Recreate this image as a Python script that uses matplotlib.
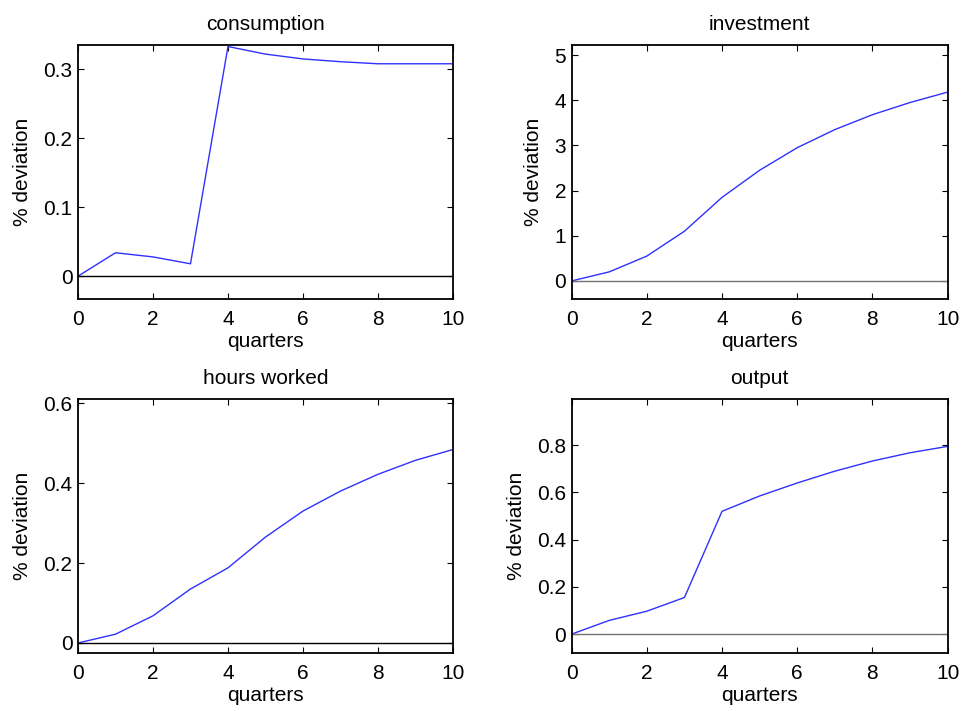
import numpy as np
import matplotlib
matplotlib.use('Agg')
import matplotlib.pyplot as plt

plt.rcParams['font.family'] = ['Liberation Sans', 'DejaVu Sans']
plt.rcParams['font.size'] = 15

quarters = np.arange(0, 11)

consumption = [0, 0.034, 0.028, 0.018, 0.333, 0.322, 0.315, 0.311, 0.308, 0.308, 0.308]
investment = [0, 0.2, 0.55, 1.1, 1.85, 2.45, 2.95, 3.35, 3.68, 3.95, 4.18]
hours_worked = [0, 0.022, 0.068, 0.135, 0.188, 0.265, 0.33, 0.38, 0.422, 0.457, 0.484]
output = [0, 0.058, 0.097, 0.155, 0.52, 0.585, 0.64, 0.69, 0.733, 0.768, 0.795]

panels = [
    ('consumption', consumption, (-0.033, 0.335), [0, 0.1, 0.2, 0.3], 'black',
     [0.0809, 0.5795, 0.389, 0.357]),
    ('investment', investment, (-0.4, 5.22), [0, 1, 2, 3, 4, 5], '0.45',
     [0.593, 0.5795, 0.390, 0.357]),
    ('hours worked', hours_worked, (-0.025, 0.61), [0, 0.2, 0.4, 0.6], 'black',
     [0.0809, 0.0816, 0.389, 0.357]),
    ('output', output, (-0.08, 0.995), [0, 0.2, 0.4, 0.6, 0.8], '0.45',
     [0.593, 0.0816, 0.390, 0.357]),
]

fig = plt.figure(figsize=(9.64, 7.11), dpi=100)

for title, vals, ylim, yticks, zcol, pos in panels:
    ax = fig.add_axes(pos)
    ax.plot(quarters, vals, color='#3030ff', lw=1.0)
    ax.axhline(0, color=zcol, lw=1.0)
    ax.set_xlim(0, 10)
    ax.set_ylim(*ylim)
    ax.set_xticks([0, 2, 4, 6, 8, 10])
    ax.set_yticks(yticks)
    ax.set_yticklabels(['0' if t == 0 else f'{t:g}' for t in yticks])
    ax.tick_params(direction='in', top=True, right=True, length=4, width=0.8)
    ax.tick_params(axis='x', pad=8)
    ax.tick_params(axis='y', pad=4)
    for s in ax.spines.values():
        s.set_linewidth(1.3)
    ax.set_title(title, fontsize=15, pad=11)
    ax.set_xlabel('quarters', labelpad=2)
    ax.set_ylabel('% deviation', labelpad=8)

fig.savefig('out.png', dpi=100, facecolor='white')
